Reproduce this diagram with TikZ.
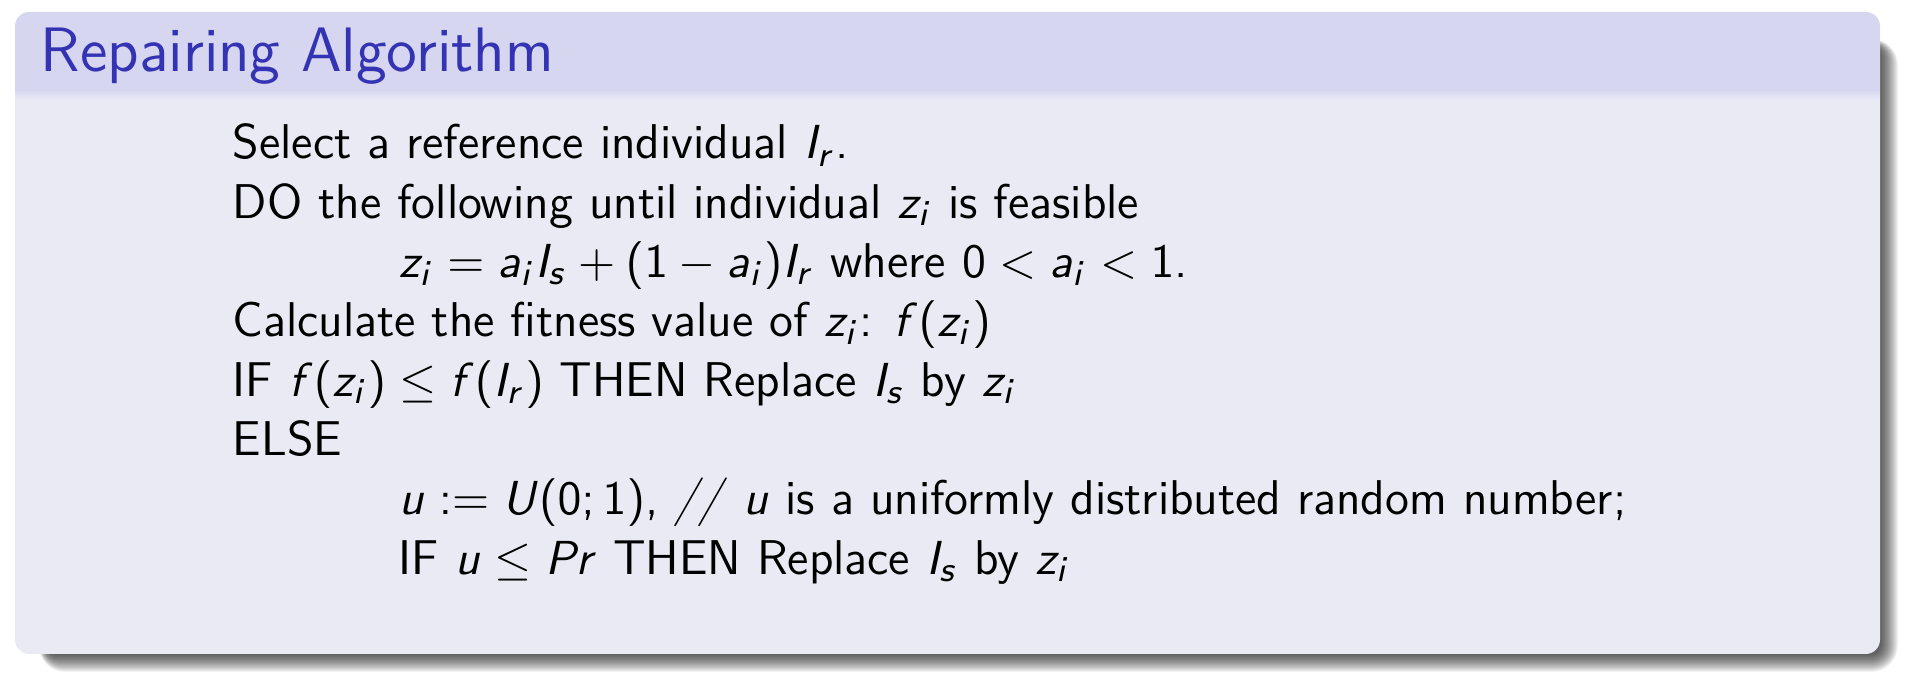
\documentclass[tikz,border=0pt]{standalone}
\DeclareMathAlphabet{\mathsl}{OT1}{cmss}{m}{sl}
\SetSymbolFont{operators}{normal}{OT1}{cmss}{m}{n}
\newcommand\mv[1]{\mathsl{#1}}
\definecolor{structblue}{RGB}{51,51,179}
\definecolor{titlebg}{RGB}{214,214,240}
\definecolor{bodybg}{RGB}{234,234,245}
\tikzset{
  txtline/.style={anchor=base west, inner sep=0pt, font=\sffamily\fontsize{11.2}{13.6}\selectfont},
  ttl/.style={anchor=base west, inner sep=0pt, text=structblue, font=\sffamily\fontsize{14.4}{18}\selectfont},
}
\begin{document}
\begin{tikzpicture}[x=0.2294pt,y=-0.2294pt]
\useasboundingbox (0,0) rectangle (1910,684);
% shadow
\foreach \k in {1,...,18}{
  \pgfmathsetmacro\rr{0.2294*\k+2}
  \fill[black,opacity=0.05,rounded corners=\rr pt] (46-\k*0.4,46-\k*0.4) rectangle (1880+\k,654+\k);
}
% block
\fill[bodybg, rounded corners=3.3pt] (15,12) rectangle (1880,654);
\begin{scope}
  \clip[rounded corners=3.3pt] (15,12) rectangle (1880,654);
  \fill[titlebg] (15,12) rectangle (1880,90);
  \shade[top color=titlebg, bottom color=bodybg] (15,89.5) rectangle (1880,100);
\end{scope}
% title
\node[ttl] (title) at (40,72) {Repairing Algorithm};
% body
\node[txtline] (l1) at (232,159) {Select a reference individual $\mv{I}_{\mv{r}}$.};
\node[txtline] (l2) at (232,218.3) {DO the following until individual $\mv{z}_{\mv{i}}$ is feasible};
\node[txtline] (l3) at (398,277.6) {$\mv{z}_{\mv{i}}=\mv{a}_{\mv{i}}\mv{I}_{\mv{s}}+(1-\mv{a}_{\mv{i}})\mv{I}_{\mv{r}}$ where $0<\mv{a}_{\mv{i}}<1$.};
\node[txtline] (l4) at (232,336.9) {Calculate the fitness value of $\mv{z}_{\mv{i}}$: $\mv{f}(\mv{z}_{\mv{i}})$};
\node[txtline] (l5) at (232,396.2) {IF $\mv{f}(\mv{z}_{\mv{i}})\le \mv{f}(\mv{I}_{\mv{r}})$ THEN Replace $\mv{I}_{\mv{s}}$ by $\mv{z}_{\mv{i}}$};
\node[txtline] (l6) at (232,455.5) {ELSE};
\node[txtline] (l7) at (398,514.8) {$\mv{u}:=\mv{U}(0;1)$, \textsl{//} $\mv{u}$ is a uniformly distributed random number;};
\node[txtline] (l8) at (398,574.1) {IF $\mv{u}\le \mv{Pr}$ THEN Replace $\mv{I}_{\mv{s}}$ by $\mv{z}_{\mv{i}}$};
\end{tikzpicture}
\end{document}
